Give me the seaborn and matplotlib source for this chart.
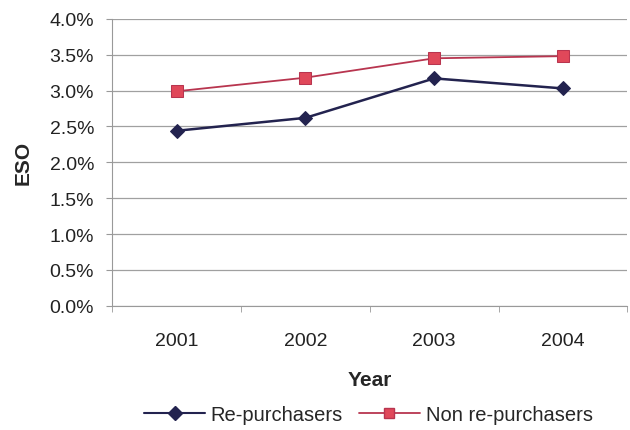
import pandas as pd
import seaborn as sns
import matplotlib.pyplot as plt
from matplotlib.ticker import PercentFormatter, FixedLocator
from matplotlib.lines import Line2D

# data
years = ['2001', '2002', '2003', '2004']
re_purchasers = [2.44, 2.62, 3.17, 3.03]
non_re_purchasers = [2.99, 3.18, 3.45, 3.48]

df = pd.DataFrame({
    'Year': years * 2,
    'ESO': re_purchasers + non_re_purchasers,
    'Group': ['Re-purchasers'] * 4 + ['Non re-purchasers'] * 4,
})

sns.set_style('white')
plt.rcParams['font.family'] = ['Liberation Sans', 'DejaVu Sans']

fig = plt.figure(figsize=(6.3, 4.31), dpi=100)
ax = fig.add_axes([0.178, 0.288, 0.818, 0.666])

palette = {'Re-purchasers': '#23234f', 'Non re-purchasers': '#b8354f'}
sns.lineplot(data=df, x='Year', y='ESO', hue='Group', style='Group',
             markers={'Re-purchasers': 'D', 'Non re-purchasers': 's'},
             dashes=False, palette=palette, ax=ax, legend=False)

# marker styling like the original
for line, face, edge, ms, lw in zip(ax.get_lines(),
                                    ['#23234f', '#e0485a'],
                                    ['#23234f', '#b8354f'],
                                    [7, 8], [1.8, 1.3]):
    line.set_markerfacecolor(face)
    line.set_markeredgecolor(edge)
    line.set_markersize(ms)
    line.set_linewidth(lw)

ax.set_ylim(0, 4.0)
ax.set_xlim(-0.5, 3.5)
ax.yaxis.set_major_locator(FixedLocator([i * 0.5 for i in range(9)]))
ax.yaxis.set_major_formatter(PercentFormatter(decimals=1))
ax.yaxis.grid(True, color='#a0a0a0', linewidth=0.9)
ax.xaxis.set_minor_locator(FixedLocator([-0.5, 0.5, 1.5, 2.5, 3.5]))
ax.tick_params(axis='x', which='major', length=0, pad=19, labelsize=14, colors='#222222')
ax.tick_params(axis='x', which='minor', length=4, direction='out', color='#999999', bottom=True)
ax.tick_params(axis='y', length=4, direction='out', color='#999999', left=True,
               labelsize=14, labelcolor='#222222', pad=9)

for side in ['top', 'right']:
    ax.spines[side].set_visible(False)
ax.spines['left'].set_color('#999999')
ax.spines['bottom'].set_color('#999999')

ax.set_xlabel('Year', fontsize=15, fontweight='bold', labelpad=15)
ax.set_ylabel('ESO', fontsize=15, fontweight='bold', labelpad=12)

# legend below the plot
handles = [
    Line2D([], [], color='#23234f', marker='D', markersize=7, linewidth=1.5),
    Line2D([], [], color='#b8354f', marker='s', markersize=7, linewidth=1.3,
           markerfacecolor='#e0485a', markeredgecolor='#b8354f'),
]
fig.legend(handles, ['Re-purchasers', 'Non re-purchasers'], loc='center',
           bbox_to_anchor=(0.585, 0.037), ncol=2, frameon=False, fontsize=14.5,
           handlelength=3.0, columnspacing=0.8, handletextpad=0.3)

fig.savefig('out.png', dpi=100)
